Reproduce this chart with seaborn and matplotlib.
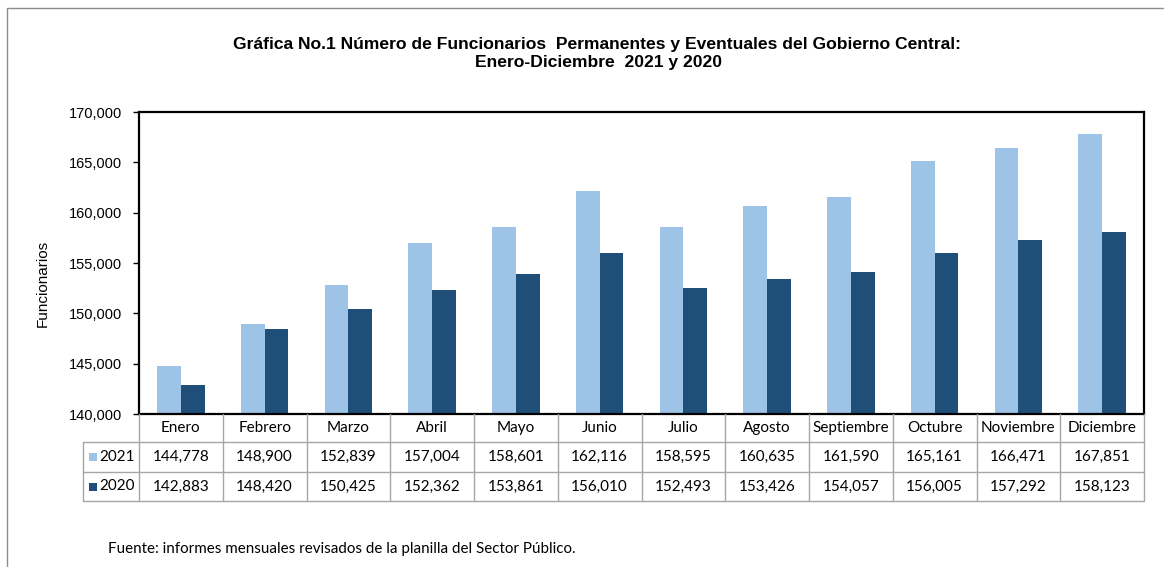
import matplotlib
matplotlib.use("Agg")
import matplotlib.pyplot as plt
import matplotlib.transforms as mtransforms
from matplotlib.patches import Rectangle
from matplotlib.lines import Line2D
import seaborn as sns
import pandas as pd

# ---------------- data ----------------
meses = ["Enero", "Febrero", "Marzo", "Abril", "Mayo", "Junio", "Julio",
         "Agosto", "Septiembre", "Octubre", "Noviembre", "Diciembre"]
valores_2021 = [144778, 148900, 152839, 157004, 158601, 162116, 158595,
                160635, 161590, 165161, 166471, 167851]
valores_2020 = [142883, 148420, 150425, 152362, 153861, 156010, 152493,
                153426, 154057, 156005, 157292, 158123]
series = ["2021", "2020"]
colores = ["#9DC3E6", "#1F4E79"]
titulo_1 = "Gráfica No.1 Número de Funcionarios  Permanentes y Eventuales del Gobierno Central:"
titulo_2 = "Enero-Diciembre  2021 y 2020"
ylabel = "Funcionarios"
fuente = "Fuente: informes mensuales revisados de la planilla del Sector Público."

df = pd.DataFrame({
    "Mes": meses * 2,
    "Año": [series[0]] * len(meses) + [series[1]] * len(meses),
    "Funcionarios": valores_2021 + valores_2020,
})

# ---------------- layout ----------------
W, H = 1164, 567
sns.set_theme(style="white")
plt.rcParams["font.family"] = ["Liberation Sans", "DejaVu Sans"]

fig = plt.figure(figsize=(W / 100, H / 100), dpi=100)
fig.patch.set_facecolor("white")

def fx(px):
    return px / W

def fy(py):
    return 1 - py / H

ax_l, ax_r, ax_t, ax_b = 139, 1144, 112, 414
ax = fig.add_axes([fx(ax_l), fy(ax_b), fx(ax_r - ax_l), (ax_b - ax_t) / H])

sns.barplot(data=df, x="Mes", y="Funcionarios", hue="Año", hue_order=series,
            order=meses, palette=colores, width=0.57, saturation=1,
            legend=False, ax=ax, linewidth=0, errorbar=None)

ax.set_ylim(140000, 170000)
ax.set_xlim(-0.5, len(meses) - 0.5)
ax.set_yticks(range(140000, 170001, 5000))
ax.set_yticklabels([f"{v:,}" for v in range(140000, 170001, 5000)], fontsize=10.5)
ax.set_xticks([])
ax.set_xlabel("")
ax.set_ylabel("")
ax.tick_params(axis="y", direction="out", length=4, width=1, color="black",
               pad=8, left=True, labelcolor="black")
for s in ax.spines.values():
    s.set_visible(True)
    s.set_color("black")
    s.set_linewidth(1.6)
ax.grid(False)
ax.set_facecolor("white")

# y label
fig.text(fx(43), fy(283), ylabel, rotation=90, ha="center", va="center",
         fontsize=11, color="black")

# title
fig.text(fx(597), fy(44), titulo_1, ha="center", va="center", fontsize=12.6,
         fontweight="bold", color="black")
fig.text(fx(599), fy(63), titulo_2, ha="center", va="center", fontsize=12.6,
         fontweight="bold", color="black")

# outer border
fig.add_artist(Rectangle((fx(7), fy(640)), fx(1300), (640 - 8) / H,
                         transform=fig.transFigure, fill=False,
                         edgecolor="#8c8c8c", linewidth=1))

# ---------------- data table ----------------
tr = mtransforms.blended_transform_factory(ax.transData, fig.transFigure)
row_y = [414, 442, 472, 501]
grid_c = "#a6a6a6"
n = len(meses)
tfont = ["Lato", "DejaVu Sans"]
tsize = 11

# horizontal lines across data columns
for yy in row_y[1:]:
    fig.add_artist(Line2D([-0.5, n - 0.5], [fy(yy), fy(yy)], transform=tr,
                          color=grid_c, lw=1))
# vertical lines
for i in range(n + 1):
    fig.add_artist(Line2D([i - 0.5, i - 0.5], [fy(row_y[0]), fy(row_y[-1])],
                          transform=tr, color=grid_c, lw=1))
# row-label column box
lab_l = 83
for yy in row_y[1:]:
    fig.add_artist(Line2D([fx(lab_l), fx(ax_l)], [fy(yy), fy(yy)],
                          transform=fig.transFigure, color=grid_c, lw=1))
fig.add_artist(Line2D([fx(lab_l), fx(lab_l)], [fy(row_y[1]), fy(row_y[-1])],
                      transform=fig.transFigure, color=grid_c, lw=1))

# header text
for i, m in enumerate(meses):
    fig.text(i, fy((row_y[0] + row_y[1]) / 2), m, transform=tr, ha="center",
             va="center", fontsize=tsize, family=tfont, color="black")
# values
for r, (name, vals, col) in enumerate(zip(series, [valores_2021, valores_2020], colores)):
    yc = fy((row_y[r + 1] + row_y[r + 2]) / 2)
    for i, v in enumerate(vals):
        fig.text(i, yc, f"{v:,}", transform=tr, ha="center", va="center",
                 fontsize=tsize, family=tfont, color="black")
    fig.add_artist(Rectangle((fx(89), yc - 4 / H), 8 / W, 8 / H,
                             transform=fig.transFigure, facecolor=col,
                             edgecolor="none"))
    fig.text(fx(99), yc, name, ha="left", va="center", fontsize=tsize,
             family=tfont, color="black")

# source
fig.text(fx(108), fy(549), fuente, ha="left", va="center", fontsize=10.9,
         family=tfont, color="black")

fig.savefig("out.png", dpi=100, facecolor="white")
